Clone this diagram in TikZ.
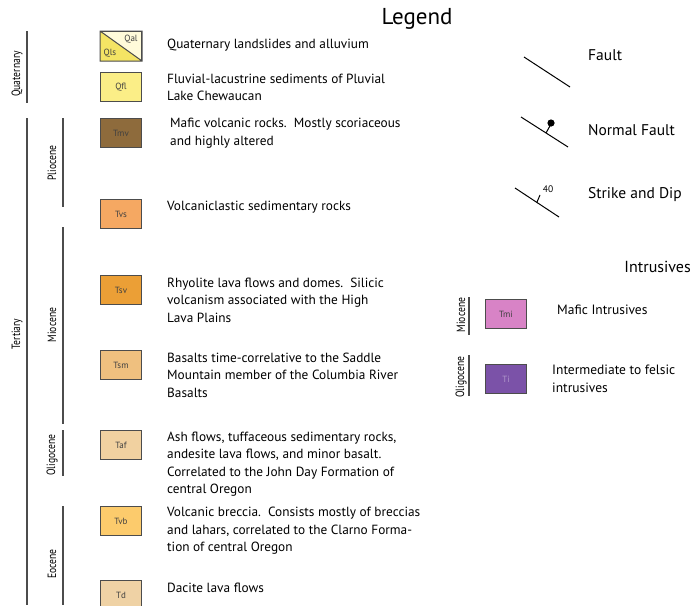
\documentclass[tikz,border=0pt]{standalone}
\usepackage{fontspec}
\setmainfont{PT Sans}
\newfontfamily\narrowfont[FakeStretch=0.8]{PT Sans}
\definecolor{qls}{HTML}{F4E464}
\definecolor{qal}{HTML}{FFFBDA}
\definecolor{qfl}{HTML}{FBEE87}
\definecolor{tmv}{HTML}{8E6B3C}
\definecolor{tvs}{HTML}{F5A862}
\definecolor{tsv}{HTML}{EB9F36}
\definecolor{tsm}{HTML}{EFC07F}
\definecolor{taf}{HTML}{F1D1A0}
\definecolor{tvb}{HTML}{FCCB6C}
\definecolor{td}{HTML}{EFD2A5}
\definecolor{tmi}{HTML}{D883C6}
\definecolor{ti}{HTML}{7B52A8}
\begin{document}
\begin{tikzpicture}[x=1pt,y=-1pt,
    unitbox/.style={draw=black!70, line width=1pt, minimum width=41pt, minimum height=29pt,
      inner sep=0pt, anchor=north west, font=\fontsize{9}{10}\selectfont, text=black!75},
    desc/.style={anchor=west, align=left, inner sep=0pt, font=\fontsize{13.3}{17.5}\selectfont},
    epoch/.style={rotate=90, inner sep=0pt, font=\narrowfont\fontsize{12}{13}\selectfont},
    span/.style={black!70, line width=1.3pt},
    sym/.style={line width=1pt},
    symlabel/.style={anchor=west, inner sep=0pt, font=\fontsize{15.5}{18}\selectfont}]
    \useasboundingbox (0,0) rectangle (692,605);
    \node (legend) at (417,19) {\fontsize{23}{26}\selectfont Legend};

    % time scale on the left
    \node[epoch] (quaternary) at (17,74) {Quaternary};
    \node[epoch] (tertiary) at (17,334) {Tertiary};
    \node[epoch] (pliocene) at (52,163) {Pliocene};
    \node[epoch] (miocene) at (52,325) {Miocene};
    \node[epoch] (oligocene) at (52,455) {Oligocene};
    \node[epoch] (eocene) at (52,564) {Eocene};
    \draw[span] (27,31) -- (27,103);
    \draw[span] (27,118) -- (27,605);
    \draw[span] (63,118) -- (63,207);
    \draw[span] (63,227) -- (63,424);
    \draw[span] (63,430) -- (63,476);
    \draw[span] (63,506) -- (63,605);

    % map units
    \node[unitbox, fill=qal] (qls) at (100,31) {};
    \fill[qls] (qls.north west) -- (qls.south east) -- (qls.south west) -- cycle;
    \draw[black!70, line width=1pt] (qls.north west) rectangle (qls.south east)
        (qls.north west) -- (qls.south east);
    \node[font=\fontsize{9}{10}\selectfont, text=black!75] (qal-lbl) at (131,39) {Qal};
    \node[font=\fontsize{9}{10}\selectfont, text=black!75] (qls-lbl) at (110,53) {Qls};
    \foreach \nm/\col/\yy in {Qfl/qfl/72, Tmv/tmv/118, Tvs/tvs/199, Tsv/tsv/275,
        Tsm/tsm/350, Taf/taf/430, Tvb/tvb/506, Td/td/580}
        \node[unitbox, fill=\col] (\col) at (100,\yy) {\nm};

    \node[desc] (qls-txt) at (167,45) {Quaternary landslides and alluvium};
    \node[desc] (qfl-txt) at (167,87.5) {Fluvial-lacustrine sediments of Pluvial\\Lake Chewaucan};
    \node[desc] (tmv-txt) at (170,133) {Mafic volcanic rocks.\ \ Mostly scoriaceous\\and highly altered};
    \node[desc] (tvs-txt) at (167,207) {Volcaniclastic sedimentary rocks};
    \node[desc] (tsv-txt) at (167,300) {Rhyolite lava flows and domes.\ \ Silicic\\volcanism associated with the High\\Lava Plains};
    \node[desc] (tsm-txt) at (167,375) {Basalts time-correlative to the Saddle\\Mountain member of the Columbia River\\Basalts};
    \node[desc] (taf-txt) at (167,464) {Ash flows, tuffaceous sedimentary rocks,\\andesite lava flows, and minor basalt.\\Correlated to the John Day Formation of\\central Oregon};
    \node[desc] (tvb-txt) at (167,531) {Volcanic breccia.\ \ Consists mostly of breccias\\and lahars, correlated to the Clarno Forma-\\tion of central Oregon};
    \node[desc] (td-txt) at (167,588) {Dacite lava flows};

    % structural symbols
    \draw[sym] (524,57) -- (570,87);
    \node[symlabel] (fault) at (588,55) {Fault};
    \draw[sym] (521,117) -- (568,147);
    \draw[sym] (546,133) -- (551,124);
    \fill (551,123) circle (3.6);
    \node[symlabel] (normal) at (588,130) {Normal Fault};
    \draw[sym] (515,188) -- (559,217);
    \draw[sym] (537,202) -- (540,195);
    \node[font=\fontsize{9.5}{11}\selectfont] (dip) at (548,189) {40};
    \node[symlabel] (strike) at (588,195) {Strike and Dip};

    % intrusives
    \node[anchor=east, inner sep=0pt, font=\fontsize{16}{18}\selectfont] (intrusives) at (691,267) {Intrusives};
    \node[unitbox, fill=tmi] (tmi) at (485,299) {Tmi};
    \node[unitbox, fill=ti, text=ti!60!white] (ti) at (485,364) {Ti};
    \node[epoch] (miocene-i) at (461,315) {Miocene};
    \node[epoch] (oligocene-i) at (461,377) {Oligocene};
    \draw[span] (469,297) -- (469,335);
    \draw[span] (469,355) -- (469,396);
    \node[desc, font=\fontsize{13.5}{17.5}\selectfont] (tmi-txt) at (557,310) {Mafic Intrusives};
    \node[desc, font=\fontsize{13.5}{17.5}\selectfont] (ti-txt) at (552,379) {Intermediate to felsic\\intrusives};
\end{tikzpicture}
\end{document}
